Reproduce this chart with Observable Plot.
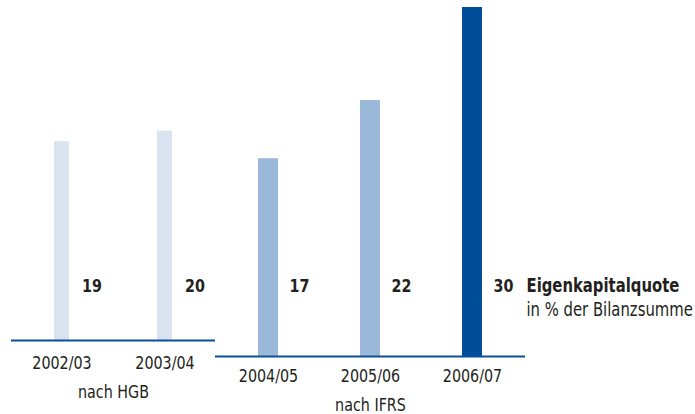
<!DOCTYPE html>
<html>
<head>
<meta charset="utf-8">
<script src="https://cdn.jsdelivr.net/npm/d3@7"></script>
<script src="https://cdn.jsdelivr.net/npm/@observablehq/plot@0.6"></script>
<style>
  body { margin: 0; background: #fff; }
  #chart { position: relative; width: 695px; height: 414px; }
  #chart svg { position: absolute; left: 0; top: 0; }
</style>
</head>
<body>
<div id="chart"></div>
<script>
// Equity ratio (Eigenkapitalquote), in % of total assets
const hgbYears = ["2002/03", "2003/04"];
const hgbValues = [19, 20];
const ifrsYears = ["2004/05", "2005/06", "2006/07"];
const ifrsValues = [17, 22, 30];
const groupLabels = ["nach HGB", "nach IFRS"];
const legendTitle = "Eigenkapitalquote";
const legendSubtitle = "in % der Bilanzsumme";

const hgbColor = "#d9e4f0";
const ifrsColors = ["#9ab8d7", "#9ab8d7", "#004e98"];
const lineColor = "#0b4f9c";
const textColor = "#231f20";
const font = "'DejaVu Sans Condensed', 'DejaVu Sans', sans-serif";
const fs = 18.5;        // font size of all labels
const legendFs = 19.2;  // font size of the legend lines
const condense = 0.86;  // horizontal squeeze for a condensed look

const hgbData = hgbYears.map((year, i) => ({year, value: hgbValues[i]}));
const ifrsData = ifrsYears.map((year, i) => ({year, value: ifrsValues[i], color: ifrsColors[i]}));

const baseStyle = {fontFamily: font, background: "transparent", color: textColor, overflow: "visible"};

// HGB years (own scale)
const hgbChart = Plot.plot({
  width: 695,
  height: 414,
  marginLeft: 11,
  marginRight: 480,
  marginTop: 26,
  marginBottom: 74,
  style: baseStyle,
  x: {type: "band", domain: hgbYears, paddingInner: 0.856, paddingOuter: 0.409},
  y: {domain: [0, 30], axis: null},
  marks: [
    Plot.barY(hgbData, {x: "year", y: "value", fill: hgbColor}),
    Plot.ruleY([0], {stroke: lineColor, strokeWidth: 2}),
    Plot.axisX({tickSize: 0, tickPadding: 15, fontSize: fs, fill: textColor, label: null}),
    Plot.text(hgbData, {
      x: "year", text: d => String(d.value), frameAnchor: "bottom",
      dx: 20, dy: -48.5, textAnchor: "start", lineAnchor: "bottom",
      fontSize: fs, fontWeight: "bold", fill: textColor
    }),
    Plot.text([groupLabels[0]], {
      text: d => d, frameAnchor: "bottom", dy: 57, lineAnchor: "bottom",
      fontSize: fs, fill: textColor
    })
  ]
});

// IFRS years (own scale)
const ifrsChart = Plot.plot({
  width: 695,
  height: 414,
  marginLeft: 215,
  marginRight: 170,
  marginTop: 7,
  marginBottom: 58,
  style: baseStyle,
  x: {type: "band", domain: ifrsYears, paddingInner: 0.806, paddingOuter: 0.408},
  y: {domain: [0, 30], axis: null},
  marks: [
    Plot.barY(ifrsData, {x: "year", y: "value", fill: "color"}),
    Plot.ruleY([0], {stroke: lineColor, strokeWidth: 2}),
    Plot.axisX({tickSize: 0, tickPadding: 12, fontSize: fs, fill: textColor, label: null}),
    Plot.text(ifrsData, {
      x: "year", text: d => String(d.value), frameAnchor: "bottom",
      dx: 21, dy: -64.5, textAnchor: "start", lineAnchor: "bottom",
      fontSize: fs, fontWeight: "bold", fill: textColor
    }),
    Plot.text([groupLabels[1]], {
      text: d => d, frameAnchor: "bottom", dy: 54, lineAnchor: "bottom",
      fontSize: fs, fill: textColor
    }),
    Plot.text([legendTitle], {
      x: () => ifrsYears[ifrsYears.length - 1], text: d => d, frameAnchor: "bottom",
      dx: 54, dy: -64.5, textAnchor: "start", lineAnchor: "bottom",
      fontSize: legendFs, fontWeight: "bold", fill: textColor
    }),
    Plot.text([legendSubtitle], {
      x: () => ifrsYears[ifrsYears.length - 1], text: d => d, frameAnchor: "bottom",
      dx: 54, dy: -40.5, textAnchor: "start", lineAnchor: "bottom",
      fontSize: legendFs, fill: textColor
    })
  ]
});

const chart = document.getElementById("chart");
chart.appendChild(hgbChart);
chart.appendChild(ifrsChart);

// squeeze every label horizontally about its own anchor point
chart.querySelectorAll("text").forEach((el) => {
  const t = el.getAttribute("transform") || "";
  el.setAttribute("transform", `${t} scale(${condense},1)`);
});
</script>
</body>
</html>
